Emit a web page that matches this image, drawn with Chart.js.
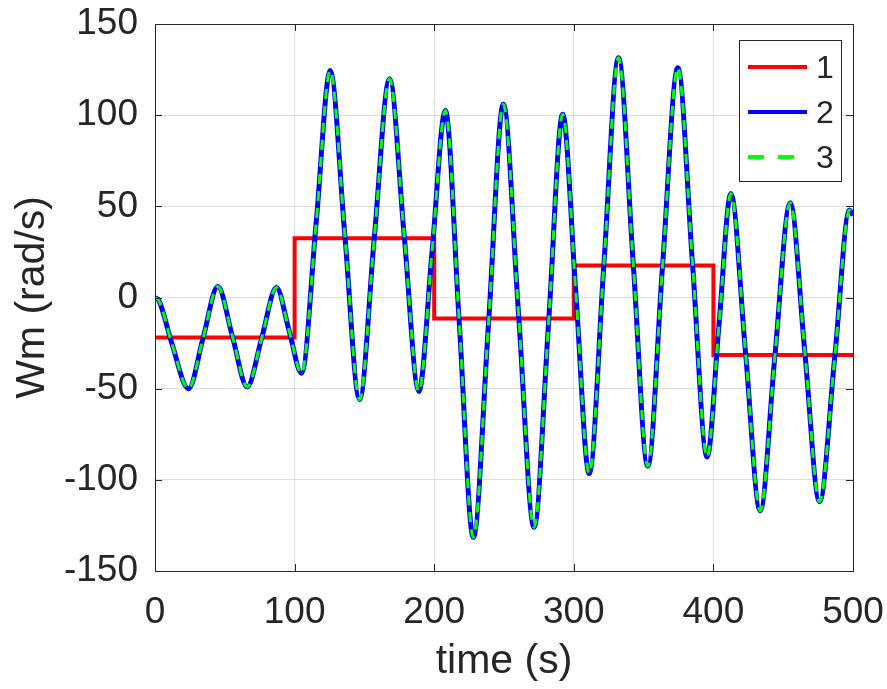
<!DOCTYPE html>
<html>
<head>
<meta charset="utf-8">
<title>Wm (rad/s)</title>
<script src="https://cdn.jsdelivr.net/npm/chart.js@4.4.1/dist/chart.umd.min.js"></script>
<style>
  html, body { margin: 0; padding: 0; background: #fff; }
</style>
</head>
<body>
<canvas id="speedChart" width="887" height="689"></canvas>
<script>
// Reference speed: piecewise constant, changes every 100 s
const tStep = [0, 100, 200, 300, 400, 500];
const refSpeed = [-22, 32.5, -11.5, 17.5, -31.5, -31.5];

// Rotor speed (peaks, troughs and crossings)
const tSpeed = [0, 3, 12, 24, 34.5, 45, 55.5, 66, 76.5, 87, 96,
    105, 115.5, 125.5, 136, 146.5, 157, 168, 178.5, 189, 198.5,
    208, 218, 228, 239, 249.5, 260.5, 271.5, 282, 292, 301.5,
    311, 321.5, 332, 342.5, 353, 363.5, 374.5, 385, 395.5, 404,
    412.5, 423, 433.5, 444, 455, 465.5, 476, 487, 497.5, 500];
const speedMeas = [0, -2, -25, -50, -22, 6, -21.5, -49, -22, 5.5, -18,
    -41.5, 41.5, 124.5, 34, -56, 32, 120, 34, -51.5, 25.5,
    102.5, -14.5, -131.5, -13, 106, -10, -126, -13, 100.5, 2,
    -96.5, 17.5, 131.5, 19.5, -92.5, 16.5, 126, 19, -87.5, -15,
    57, -30, -117, -32.5, 52, -30, -112, -32, 48, 45];
// Estimated speed, lies on top of the measured one
const speedEst = [0, -2, -25, -50, -22, 6, -21.5, -49, -22, 5.5, -18,
    -41.5, 41.5, 124.5, 34, -56, 32, 120, 34, -51.5, 25.5,
    102.5, -14.5, -131.5, -13, 106, -10, -126, -13, 100.5, 2,
    -96.5, 17.5, 131.5, 19.5, -92.5, 16.5, 126, 19, -87.5, -15,
    57, -30, -117, -32.5, 52, -30, -112, -32, 48, 45];

const seriesLabels = ['1', '2', '3'];
const xTicks = [0, 100, 200, 300, 400, 500];
const yTicks = [-150, -100, -50, 0, 50, 100, 150];

const textColor = '#262626';
const gridColor = 'rgba(38,38,38,0.15)';
const family = '"Liberation Sans", Arial, Helvetica, sans-serif';

const toXY = (xs, ys) => xs.map((x, i) => ({ x: x, y: ys[i] }));

// box round the axes with inward ticks on all four sides
const axesBox = {
    id: 'axesBox',
    afterDraw(chart) {
        const { ctx, chartArea: a, scales } = chart;
        const len = 7;
        ctx.save();
        ctx.strokeStyle = textColor;
        ctx.lineWidth = 1;
        ctx.beginPath();
        scales.x.ticks.forEach(t => {
            const px = Math.round(scales.x.getPixelForValue(t.value)) + 0.5;
            ctx.moveTo(px, a.bottom); ctx.lineTo(px, a.bottom - len);
            ctx.moveTo(px, a.top); ctx.lineTo(px, a.top + len);
        });
        scales.y.ticks.forEach(t => {
            const py = Math.round(scales.y.getPixelForValue(t.value)) + 0.5;
            ctx.moveTo(a.left, py); ctx.lineTo(a.left + len, py);
            ctx.moveTo(a.right, py); ctx.lineTo(a.right - len, py);
        });
        ctx.stroke();
        ctx.strokeRect(Math.round(a.left) + 0.5, Math.round(a.top) + 0.5,
            Math.round(a.right - a.left), Math.round(a.bottom - a.top));
        ctx.restore();
    }
};

// legend box in the upper right corner of the plot
const boxLegend = {
    id: 'boxLegend',
    afterDraw(chart) {
        const { ctx, chartArea: a } = chart;
        const w = 102, h = 141;
        const x0 = a.right - 12 - w, y0 = a.top + 16;
        ctx.save();
        ctx.fillStyle = '#fff';
        ctx.fillRect(x0, y0, w, h);
        ctx.strokeStyle = textColor;
        ctx.lineWidth = 1;
        ctx.strokeRect(Math.round(x0) + 0.5, Math.round(y0) + 0.5, w, h);
        ctx.font = '32px ' + family;
        ctx.textBaseline = 'middle';
        ctx.textAlign = 'left';
        chart.data.datasets.forEach((ds, i) => {
            const y = y0 + 27 + i * 45;
            ctx.beginPath();
            ctx.strokeStyle = ds.borderColor;
            ctx.lineWidth = 4;
            ctx.setLineDash(ds.borderDash ? [16, 14] : []);
            ctx.moveTo(x0 + 9, y);
            ctx.lineTo(x0 + 68, y);
            ctx.stroke();
            ctx.setLineDash([]);
            ctx.fillStyle = textColor;
            ctx.fillText(ds.label, x0 + 77, y + 2);
        });
        ctx.restore();
    }
};

const ctx = document.getElementById('speedChart').getContext('2d');
const speedChart = new Chart(ctx, {
    type: 'line',
    data: {
        datasets: [
            {
                label: seriesLabels[0],
                data: toXY(tStep, refSpeed),
                borderColor: '#ff0000',
                borderWidth: 4,
                stepped: true,
                order: 3
            },
            {
                label: seriesLabels[1],
                data: toXY(tSpeed, speedMeas),
                borderColor: '#0000ff',
                borderWidth: 5,
                cubicInterpolationMode: 'monotone',
                order: 2
            },
            {
                label: seriesLabels[2],
                data: toXY(tSpeed, speedEst),
                borderColor: '#00ff00',
                borderWidth: 3,
                borderDash: [10, 7],
                cubicInterpolationMode: 'monotone',
                order: 1
            }
        ]
    },
    options: {
        responsive: false,
        animation: false,
        layout: { padding: { top: 24, right: 34, left: 0, bottom: 0 } },
        elements: { point: { radius: 0 } },
        plugins: {
            legend: { display: false },
            tooltip: { enabled: false }
        },
        scales: {
            x: {
                type: 'linear',
                min: 0,
                max: 500,
                afterBuildTicks: s => { s.ticks = xTicks.map(v => ({ value: v })); },
                afterFit: s => {
                    s.height = 118;
                    s.paddingLeft = 0;
                    s.paddingRight = 0;
                },
                grid: { color: gridColor, drawTicks: false },
                border: { display: false },
                ticks: {
                    color: textColor,
                    padding: 20,
                    maxRotation: 0,
                    font: { family: family, size: 37 }
                },
                title: {
                    display: true,
                    text: 'time (s)',
                    color: textColor,
                    font: { family: family, size: 41, lineHeight: 1 },
                    padding: { top: 0, bottom: 7 }
                }
            },
            y: {
                min: -150,
                max: 150,
                afterBuildTicks: s => { s.ticks = yTicks.map(v => ({ value: v })); },
                afterFit: s => {
                    s.width = 155;
                    s.paddingTop = 0;
                    s.paddingBottom = 0;
                },
                grid: { color: gridColor, drawTicks: false },
                border: { display: false },
                ticks: {
                    color: textColor,
                    padding: 17,
                    font: { family: family, size: 37 }
                },
                title: {
                    display: true,
                    text: 'Wm (rad/s)',
                    color: textColor,
                    font: { family: family, size: 41, lineHeight: 1 },
                    padding: { top: 12, bottom: 0 }
                }
            }
        }
    },
    plugins: [axesBox, boxLegend]
});
</script>
</body>
</html>
